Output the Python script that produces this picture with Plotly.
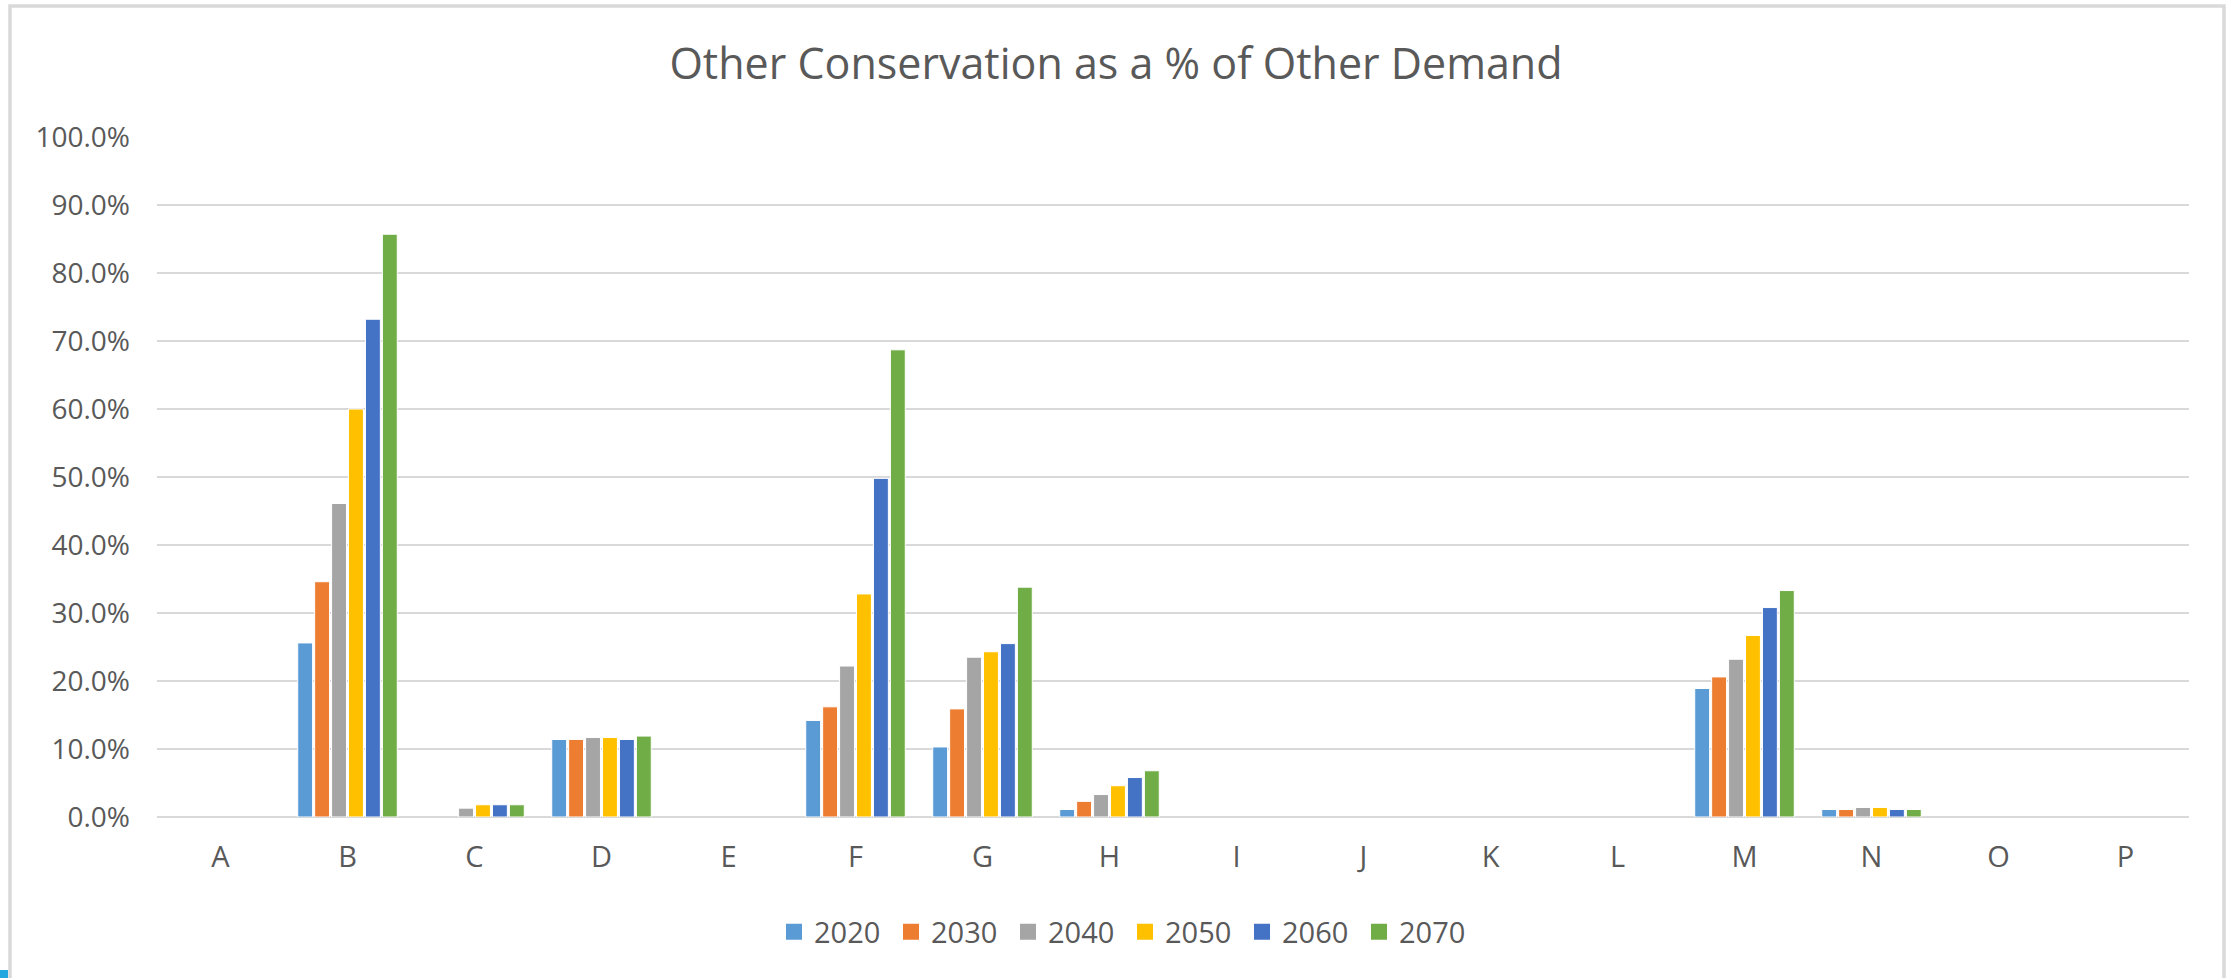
import plotly.graph_objects as go

# Categories and yearly series (share of other demand met by other conservation)
categories = ["A", "B", "C", "D", "E", "F", "G", "H", "I", "J", "K", "L", "M", "N", "O", "P"]
years = ["2020", "2030", "2040", "2050", "2060", "2070"]

s2020 = [None, 0.256, None, 0.114, None, 0.142, 0.103, 0.011, None, None, None, None, 0.189, 0.011, None, None]
s2030 = [None, 0.346, None, 0.114, None, 0.162, 0.159, 0.023, None, None, None, None, 0.206, 0.011, None, None]
s2040 = [None, 0.461, 0.013, 0.117, None, 0.222, 0.235, 0.033, None, None, None, None, 0.232, 0.014, None, None]
s2050 = [None, 0.600, 0.018, 0.117, None, 0.328, 0.243, 0.046, None, None, None, None, 0.267, 0.014, None, None]
s2060 = [None, 0.732, 0.018, 0.114, None, 0.498, 0.255, 0.058, None, None, None, None, 0.308, 0.011, None, None]
s2070 = [None, 0.857, 0.018, 0.119, None, 0.687, 0.338, 0.068, None, None, None, None, 0.333, 0.011, None, None]

series = [s2020, s2030, s2040, s2050, s2060, s2070]
colors = ["#5B9BD5", "#ED7D31", "#A5A5A5", "#FFC000", "#4472C4", "#70AD47"]

y_ticks = [i / 10 for i in range(11)]
y_tick_text = [f"{v * 100:.1f}%" for v in y_ticks]

W, H = 2232, 978
ML, MR, MT, MB = 157, 43, 137, 161
FONT = "Open Sans"
TEXT = "#595959"
GRID = "#D9D9D9"

fig = go.Figure()

for name, vals, col in zip(years, series, colors):
    fig.add_trace(go.Bar(
        x=categories, y=vals, name=name,
        marker=dict(color=col, line=dict(color="white", width=1)),
        showlegend=False,
    ))
    # legend entry with a larger square swatch
    fig.add_trace(go.Scatter(
        x=[None], y=[None], mode="markers", name=name,
        marker=dict(symbol="square", size=16, color=col),
        showlegend=True,
    ))

# paper-coordinate helpers for the outer chart frame
pw, ph = W - ML - MR, H - MT - MB
def px_x(px):
    return (px - ML) / pw
def px_y(py):
    return (H - MB - py) / ph

shapes = [
    dict(type="rect", xref="paper", yref="paper",
         x0=px_x(10), x1=px_x(2224), y0=px_y(1000), y1=px_y(6),
         line=dict(color="#D9D9D9", width=3.5), fillcolor="rgba(0,0,0,0)", layer="below"),
    dict(type="rect", xref="paper", yref="paper",
         x0=px_x(0), x1=px_x(8), y0=px_y(978), y1=px_y(970),
         line=dict(width=0), fillcolor="#22A7E0"),
]

fig.update_layout(
    width=W, height=H,
    margin=dict(l=ML, r=MR, t=MT, b=MB, pad=0),
    paper_bgcolor="white", plot_bgcolor="white",
    font=dict(family=FONT, color=TEXT),
    barmode="group", bargap=0.2, bargroupgap=0.12,
    title=dict(text="Other Conservation as a % of Other Demand",
               font=dict(family=FONT, size=43, color=TEXT),
               x=1116 / W, xanchor="center", xref="container",
               y=1 - 64 / H, yanchor="middle", yref="container"),
    xaxis=dict(type="category", categoryorder="array", categoryarray=categories,
               showgrid=False, showline=False, zeroline=False, ticks="",
               tickfont=dict(family=FONT, size=29, color=TEXT),
               ticklabelstandoff=20),
    yaxis=dict(range=[0, 1], tickvals=y_ticks, ticktext=y_tick_text,
               showgrid=True, gridcolor=GRID, gridwidth=1.5,
               zeroline=True, zerolinecolor=GRID, zerolinewidth=2,
               showline=False, ticks="",
               tickfont=dict(family=FONT, size=28, color=TEXT),
               ticklabelstandoff=26),
    legend=dict(orientation="h", xref="container", yref="container",
                x=1125 / W, xanchor="center", y=1 - 932 / H, yanchor="middle",
                entrywidth=72, entrywidthmode="pixels",
                font=dict(family=FONT, size=29, color=TEXT),
                bgcolor="rgba(0,0,0,0)"),
    shapes=shapes,
)

fig.write_html("out.html")
